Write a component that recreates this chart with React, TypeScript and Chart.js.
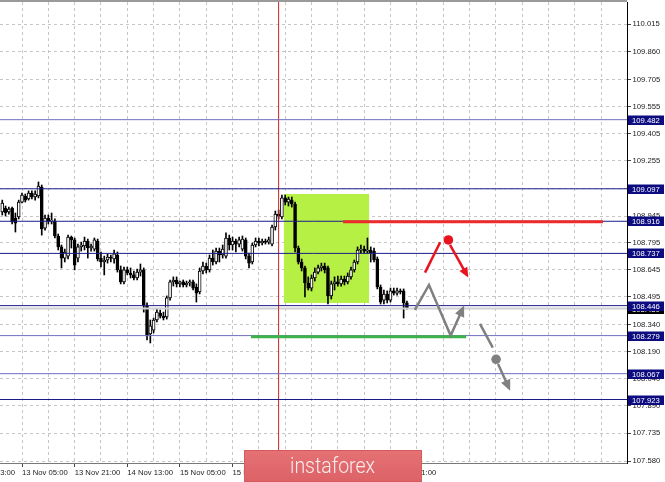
import React, { useEffect, useRef } from "react";
import { Chart, registerables } from "chart.js";
Chart.register(...registerables);

// ---- Candles (H1 bars, index 0 = first visible bar) ----
const OPEN = [
  108.968, 108.990, 108.968, 108.990, 108.934, 108.940, 109.023, 109.057, 109.040, 109.073,
  109.051, 109.057, 109.107, 108.878, 108.934, 108.917, 108.917, 108.834, 108.773, 108.711,
  108.722, 108.828, 108.812, 108.711, 108.773, 108.778, 108.806, 108.767, 108.761, 108.806,
  108.711, 108.689, 108.700, 108.717, 108.706, 108.728, 108.645, 108.578, 108.645, 108.628,
  108.617, 108.600, 108.633, 108.645, 108.444, 108.288, 108.310, 108.366, 108.405, 108.388,
  108.383, 108.489, 108.578, 108.589, 108.567, 108.578, 108.561, 108.572, 108.578, 108.550,
  108.522, 108.639, 108.667, 108.645, 108.711, 108.689, 108.750, 108.728, 108.722, 108.823,
  108.784, 108.806, 108.789, 108.761, 108.812, 108.722, 108.689, 108.784, 108.806, 108.795,
  108.806, 108.800, 108.789, 108.884, 108.956, 108.940, 109.046, 109.023, 109.034, 109.012,
  108.767, 108.689, 108.656, 108.572, 108.544, 108.600, 108.633, 108.656, 108.667, 108.656,
  108.500, 108.567, 108.578, 108.567, 108.594, 108.578, 108.606, 108.645, 108.689, 108.756,
  108.761, 108.750, 108.756, 108.750, 108.706, 108.550, 108.477, 108.511, 108.477, 108.528,
  108.516, 108.528, 108.528, 108.461,
];
const HIGH = [
  109.034, 109.001, 108.995, 108.995, 108.962, 109.034, 109.073, 109.068, 109.085, 109.085,
  109.085, 109.135, 109.118, 108.951, 108.951, 108.962, 108.929, 108.845, 108.784, 108.761,
  108.839, 108.834, 108.823, 108.789, 108.800, 108.828, 108.817, 108.789, 108.823, 108.817,
  108.745, 108.722, 108.734, 108.728, 108.756, 108.745, 108.667, 108.661, 108.661, 108.656,
  108.639, 108.650, 108.678, 108.656, 108.461, 108.366, 108.377, 108.427, 108.422, 108.410,
  108.500, 108.589, 108.606, 108.606, 108.583, 108.589, 108.583, 108.589, 108.589, 108.567,
  108.656, 108.689, 108.683, 108.728, 108.756, 108.767, 108.767, 108.784, 108.851, 108.839,
  108.828, 108.817, 108.828, 108.834, 108.823, 108.739, 108.795, 108.823, 108.823, 108.817,
  108.817, 108.828, 108.895, 108.973, 108.979, 109.062, 109.062, 109.051, 109.051, 109.023,
  108.778, 108.706, 108.667, 108.606, 108.617, 108.656, 108.672, 108.683, 108.683, 108.667,
  108.583, 108.606, 108.611, 108.611, 108.611, 108.628, 108.661, 108.700, 108.773, 108.784,
  108.778, 108.823, 108.773, 108.767, 108.717, 108.561, 108.533, 108.528, 108.544, 108.544,
  108.544, 108.539, 108.539, 108.472,
];
const LOW = [
  108.951, 108.945, 108.956, 108.901, 108.856, 108.929, 109.018, 109.023, 109.034, 109.040,
  109.034, 109.046, 108.839, 108.867, 108.901, 108.901, 108.823, 108.756, 108.656, 108.689,
  108.706, 108.767, 108.645, 108.689, 108.750, 108.756, 108.711, 108.750, 108.750, 108.695,
  108.661, 108.617, 108.683, 108.689, 108.683, 108.633, 108.567, 108.567, 108.617, 108.600,
  108.589, 108.589, 108.611, 108.410, 108.255, 108.238, 108.294, 108.355, 108.377, 108.366,
  108.371, 108.477, 108.555, 108.550, 108.550, 108.550, 108.550, 108.555, 108.533, 108.466,
  108.511, 108.622, 108.628, 108.633, 108.672, 108.678, 108.689, 108.711, 108.711, 108.756,
  108.756, 108.745, 108.773, 108.750, 108.706, 108.656, 108.678, 108.773, 108.778, 108.784,
  108.789, 108.789, 108.778, 108.867, 108.929, 108.929, 109.007, 109.001, 108.995, 108.745,
  108.678, 108.639, 108.494, 108.533, 108.528, 108.583, 108.622, 108.639, 108.628, 108.455,
  108.483, 108.533, 108.555, 108.555, 108.561, 108.567, 108.594, 108.633, 108.678, 108.739,
  108.739, 108.739, 108.689, 108.689, 108.539, 108.455, 108.455, 108.461, 108.466, 108.505,
  108.505, 108.511, 108.377, 108.427,
];
const CLOSE = [
  109.018, 108.962, 108.984, 108.912, 108.906, 109.023, 109.062, 109.034, 109.073, 109.051,
  109.068, 109.112, 108.873, 108.934, 108.917, 108.923, 108.834, 108.773, 108.711, 108.745,
  108.828, 108.812, 108.672, 108.773, 108.784, 108.806, 108.767, 108.778, 108.812, 108.706,
  108.689, 108.700, 108.717, 108.711, 108.734, 108.645, 108.578, 108.645, 108.628, 108.617,
  108.600, 108.633, 108.645, 108.444, 108.277, 108.333, 108.366, 108.410, 108.388, 108.377,
  108.489, 108.578, 108.589, 108.567, 108.578, 108.561, 108.572, 108.578, 108.544, 108.516,
  108.639, 108.667, 108.645, 108.711, 108.689, 108.750, 108.728, 108.761, 108.823, 108.784,
  108.806, 108.789, 108.812, 108.817, 108.722, 108.683, 108.784, 108.806, 108.795, 108.806,
  108.800, 108.812, 108.884, 108.956, 108.945, 109.046, 109.023, 109.040, 109.012, 108.767,
  108.689, 108.656, 108.572, 108.544, 108.600, 108.633, 108.656, 108.667, 108.645, 108.500,
  108.567, 108.578, 108.567, 108.594, 108.578, 108.611, 108.645, 108.689, 108.756, 108.761,
  108.750, 108.756, 108.739, 108.700, 108.550, 108.466, 108.511, 108.477, 108.528, 108.516,
  108.528, 108.522, 108.461, 108.430,
];

// ---- Axes ----
const X_TICK_INDEX = [-10, 6, 22, 38, 54, 70, 86, 102, 118];
const X_TICK_LABELS = [
  "12 Nov 13:00", "13 Nov 05:00", "13 Nov 21:00", "14 Nov 13:00", "15 Nov 05:00",
  "15 Nov 21:00", "18 Nov 13:00", "19 Nov 05:00", "19 Nov 21:00",
];
const X_RANGE = [-0.687, 189.89];
const Y_RANGE = [107.5693, 110.1376];
const Y_TICKS = [
  110.015, 109.86, 109.705, 109.555, 109.405, 109.255, 109.1, 108.945, 108.795,
  108.645, 108.495, 108.34, 108.19, 108.04, 107.89, 107.735, 107.58,
];

// ---- Levels ----
const LEVELS = [109.482, 109.097, 108.916, 108.737, 108.446, 108.279, 108.067, 107.923];
const LEVEL_STRONG = [false, true, true, true, true, false, false, true];
const BID = 108.43;

// ---- Annotations ----
const MARKER_INDEX = 84;
const ZONE_X = [85.6, 111.5];
const ZONE_Y = [108.461, 109.068];
const RESIST_X = [103.6, 182.6];
const RESIST_Y = 108.913;
const SUPPORT_X = [75.6, 141.0];
const SUPPORT_Y = 108.273;
const RED_LEG_X = [128.5, 133.1];
const RED_LEG_Y = [108.63, 108.799];
const RED_DOT = [135.6, 108.812];
const RED_ARROW_X = [136.1, 141.2];
const RED_ARROW_Y = [108.784, 108.617];
const GRAY_PATH_X = [125.4, 129.7, 136.3, 140.0];
const GRAY_PATH_Y = [108.422, 108.561, 108.279, 108.431];
const GRAY_LEG_X = [145.2, 149.1];
const GRAY_LEG_Y = [108.344, 108.212];
const GRAY_DOT = [150.1, 108.147];
const GRAY_ARROW_X = [150.7, 154.0];
const GRAY_ARROW_Y = [108.121, 107.987];

const FONT = "Liberation Sans";
const NAVY = "#1b1b8a";
const LIGHT_NAVY = "#6f6fbf";
const RED = "#e8141e";
const GRAY = "#808080";

const pts = (xs: number[], ys: number[]) => xs.map((x, i) => ({ x, y: ys[i] }));

const zonePlugin = {
  id: "zone",
  beforeDatasetsDraw(chart: any) {
    const { ctx, scales } = chart;
    const x0 = scales.x.getPixelForValue(ZONE_X[0]);
    const x1 = scales.x.getPixelForValue(ZONE_X[1]);
    const y0 = scales.y.getPixelForValue(ZONE_Y[1]);
    const y1 = scales.y.getPixelForValue(ZONE_Y[0]);
    ctx.save();
    ctx.fillStyle = "#b6f044";
    ctx.fillRect(x0, y0, x1 - x0, y1 - y0);
    ctx.restore();
  },
};

const arrowPlugin = {
  id: "arrows",
  afterDatasetsDraw(chart: any) {
    const ctx = chart.ctx;
    chart.data.datasets.forEach((ds: any, i: number) => {
      if (!ds.arrowHead) return;
      const els = chart.getDatasetMeta(i).data;
      const a = els[els.length - 2];
      const b = els[els.length - 1];
      const ang = Math.atan2(b.y - a.y, b.x - a.x);
      const [len, half] = ds.arrowHead;
      const tx = b.x + 3 * Math.cos(ang);
      const ty = b.y + 3 * Math.sin(ang);
      const bx = tx - len * Math.cos(ang);
      const by = ty - len * Math.sin(ang);
      ctx.save();
      ctx.fillStyle = ds.borderColor;
      ctx.beginPath();
      ctx.moveTo(tx, ty);
      ctx.lineTo(bx + half * Math.sin(ang), by - half * Math.cos(ang));
      ctx.lineTo(bx - half * Math.sin(ang), by + half * Math.cos(ang));
      ctx.closePath();
      ctx.fill();
      ctx.restore();
    });
  },
};

const overlayPlugin = {
  id: "overlay",
  afterDraw(chart: any) {
    const { ctx, chartArea, scales } = chart;
    ctx.save();
    // top frame
    ctx.strokeStyle = "#9a9a9a";
    ctx.lineWidth = 2;
    ctx.beginPath();
    ctx.moveTo(chartArea.left, chartArea.top - 1);
    ctx.lineTo(chartArea.right, chartArea.top - 1);
    ctx.stroke();

    ctx.font = `7.7px "${FONT}"`;
    ctx.textBaseline = "middle";
    ctx.textAlign = "left";
    const tag = (v: number, bg: string) => {
      const y = Math.round(scales.y.getPixelForValue(v));
      ctx.fillStyle = bg;
      ctx.fillRect(chartArea.right + 1, y - 4.5, 36, 9.5);
      ctx.fillStyle = "#ffffff";
      ctx.fillText(v.toFixed(3), chartArea.right + 5, y + 0.5);
    };
    tag(BID, "#000000");
    LEVELS.forEach((v) => tag(v, "#0c0c80"));

    // watermark banner
    const grd = ctx.createLinearGradient(0, 450, 0, 482);
    grd.addColorStop(0, "#e57276");
    grd.addColorStop(1, "#dc6266");
    ctx.fillStyle = grd;
    ctx.fillRect(244, 450, 178, 32);
    ctx.strokeStyle = "#d45a5e";
    ctx.lineWidth = 1;
    ctx.strokeRect(244.5, 450.5, 177, 31);
    ctx.fillStyle = "#fbecec";
    ctx.font = '300 22px "Roboto"';
    ctx.textBaseline = "alphabetic";
    const w = ctx.measureText("instaforex").width;
    ctx.translate(290, 473);
    ctx.scale(85 / w, 1);
    ctx.fillText("instaforex", 0, 0);
    ctx.restore();
  },
};

export default function App() {
  const ref = useRef<HTMLCanvasElement>(null);
  useEffect(() => {
    document.body.style.margin = "0";
    const idx = OPEN.map((_, i) => i);
    const datasets: any[] = [
      {
        type: "bar",
        data: idx.map((i) => ({ x: i, y: [LOW[i], HIGH[i]] })),
        backgroundColor: "#000000",
        borderWidth: 0,
        barThickness: 1,
        grouped: false,
        order: 5,
      },
      {
        type: "bar",
        data: idx.map((i) => ({ x: i, y: [OPEN[i], CLOSE[i]] })),
        backgroundColor: idx.map((i) => (CLOSE[i] >= OPEN[i] ? "#ffffff" : "#000000")),
        borderColor: "#000000",
        borderWidth: 1,
        borderSkipped: false,
        barThickness: 3,
        minBarLength: 1,
        grouped: false,
        order: 4,
      },
      {
        type: "line",
        data: [{ x: MARKER_INDEX, y: Y_RANGE[0] }, { x: MARKER_INDEX, y: Y_RANGE[1] }],
        borderColor: "#cc2222",
        borderWidth: 1,
        pointRadius: 0,
        order: 3,
      },
      {
        type: "line",
        data: [{ x: X_RANGE[0] - 1, y: BID }, { x: X_RANGE[1] + 1, y: BID }],
        borderColor: "#cfcfcf",
        borderWidth: 2,
        pointRadius: 0,
        order: 3,
      },
      ...LEVELS.map((v, k) => ({
        type: "line",
        data: [{ x: X_RANGE[0] - 1, y: v }, { x: X_RANGE[1] + 1, y: v }],
        borderColor: LEVEL_STRONG[k] ? NAVY : LIGHT_NAVY,
        borderWidth: 1,
        pointRadius: 0,
        order: 2,
      })),
      {
        type: "line",
        data: pts(RESIST_X, [RESIST_Y, RESIST_Y]),
        borderColor: "#ee2b2b",
        borderWidth: 3,
        pointRadius: 0,
        order: 1,
      },
      {
        type: "line",
        data: pts(SUPPORT_X, [SUPPORT_Y, SUPPORT_Y]),
        borderColor: "#3cb44a",
        borderWidth: 3,
        pointRadius: 0,
        order: 1,
      },
      {
        type: "line",
        data: pts(RED_LEG_X, RED_LEG_Y),
        borderColor: RED,
        borderWidth: 2.5,
        pointRadius: 0,
        order: 0,
      },
      {
        type: "line",
        data: [{ x: RED_DOT[0], y: RED_DOT[1] }],
        showLine: false,
        pointRadius: 4.8,
        pointBorderWidth: 0,
        pointBackgroundColor: RED,
        borderColor: RED,
        order: 0,
      },
      {
        type: "line",
        data: pts(RED_ARROW_X, RED_ARROW_Y),
        borderColor: RED,
        borderWidth: 2.5,
        pointRadius: 0,
        arrowHead: [10, 4.5],
        order: 0,
      },
      {
        type: "line",
        data: pts(GRAY_PATH_X, GRAY_PATH_Y),
        borderColor: GRAY,
        borderWidth: 2.5,
        pointRadius: 0,
        arrowHead: [11, 5],
        order: 0,
      },
      {
        type: "line",
        data: pts(GRAY_LEG_X, GRAY_LEG_Y),
        borderColor: GRAY,
        borderWidth: 2.5,
        pointRadius: 0,
        order: 0,
      },
      {
        type: "line",
        data: [{ x: GRAY_DOT[0], y: GRAY_DOT[1] }],
        showLine: false,
        pointRadius: 4.8,
        pointBorderWidth: 0,
        pointBackgroundColor: GRAY,
        borderColor: GRAY,
        order: 0,
      },
      {
        type: "line",
        data: pts(GRAY_ARROW_X, GRAY_ARROW_Y),
        borderColor: GRAY,
        borderWidth: 2.5,
        pointRadius: 0,
        arrowHead: [11, 5],
        order: 0,
      },
    ];

    const chart = new Chart(ref.current as HTMLCanvasElement, {
      type: "bar",
      data: { datasets },
      plugins: [zonePlugin, arrowPlugin, overlayPlugin],
      options: {
        responsive: false,
        maintainAspectRatio: false,
        devicePixelRatio: 1,
        animation: false,
        events: [],
        layout: { autoPadding: false, padding: { top: 2, left: 0, right: 0, bottom: 0 } },
        plugins: { legend: { display: false }, tooltip: { enabled: false } },
        scales: {
          x: {
            type: "linear",
            position: "bottom",
            min: X_RANGE[0],
            max: X_RANGE[1],
            offset: false,
            afterBuildTicks: (s: any) => {
              const t: any[] = [];
              for (let v = X_TICK_INDEX[0]; v <= X_RANGE[1]; v += 8) t.push({ value: v });
              s.ticks = t;
            },
            afterFit: (s: any) => {
              s.height = 19;
              s.paddingLeft = 0;
              s.paddingRight = 0;
            },
            grid: {
              offset: false,
              color: "#c6c6c6",
              lineWidth: 1,
              drawTicks: true,
              tickLength: 4,
              tickColor: (c: any) =>
                c.tick && X_TICK_INDEX.includes(c.tick.value) ? "#444444" : "rgba(0,0,0,0)",
            },
            border: { display: true, color: "#777777", width: 1, dash: [3, 3] },
            ticks: {
              autoSkip: false,
              maxRotation: 0,
              minRotation: 0,
              align: "start",
              padding: 1,
              color: "#222222",
              font: { family: FONT, size: 7.7 },
              callback: (v: any) => {
                const k = X_TICK_INDEX.indexOf(Number(v));
                return k >= 0 ? X_TICK_LABELS[k] : "";
              },
            },
          },
          y: {
            type: "linear",
            position: "right",
            min: Y_RANGE[0],
            max: Y_RANGE[1],
            afterBuildTicks: (s: any) => {
              s.ticks = Y_TICKS.map((v) => ({ value: v }));
            },
            afterFit: (s: any) => {
              s.width = 38;
              s.paddingTop = 0;
              s.paddingBottom = 0;
            },
            grid: {
              color: "#c6c6c6",
              lineWidth: 1,
              drawTicks: true,
              tickLength: 4,
              tickColor: "#444444",
            },
            border: { display: true, color: "#000000", width: 1, dash: [3, 3] },
            ticks: {
              autoSkip: false,
              padding: 1.5,
              color: "#222222",
              font: { family: FONT, size: 7.7 },
              callback: (v: any) => Number(v).toFixed(3),
            },
          },
        },
      } as any,
    });
    return () => chart.destroy();
  }, []);

  return (
    <div style={{ position: "absolute", left: 0, top: 0, width: 665, height: 482, background: "#ffffff" }}>
      <canvas ref={ref} width={665} height={482} style={{ display: "block", width: 665, height: 482 }} />
    </div>
  );
}
